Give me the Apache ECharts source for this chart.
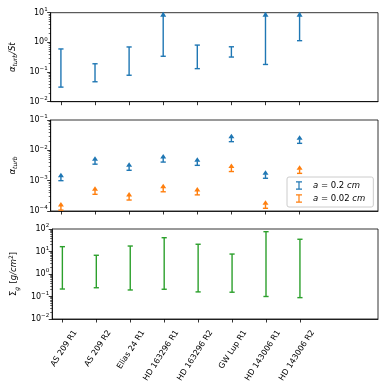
<!DOCTYPE html>
<html>
<head>
<meta charset="utf-8">
<script src="https://cdn.jsdelivr.net/npm/echarts@6/dist/echarts.min.js"></script>
<style>
  html, body { margin: 0; padding: 0; background: #fff; }
  #chart { width: 390px; height: 390px; }
</style>
</head>
<body>
<div id="chart"></div>
<script>
// 盘名
var discs = ['AS 209 R1', 'AS 209 R2', 'Elias 24 R1', 'HD 163296 R1', 'HD 163296 R2', 'GW Lup R1', 'HD 143006 R1', 'HD 143006 R2'];

// alpha_turb / St 范围 (open=1 表示只有下限, 上端画箭头)
var alphaStLo = [0.031, 0.047, 0.078, 0.34, 0.13, 0.32, 0.18, 1.14];
var alphaStHi = [0.6, 0.19, 0.70, 10, 0.81, 0.71, 10, 10];
var alphaStOpen = [0, 0, 0, 1, 0, 0, 1, 1];

// alpha_turb 下限
var turbBig = [1.0e-3, 3.5e-3, 2.2e-3, 4.1e-3, 3.2e-3, 1.93e-2, 1.2e-3, 1.7e-2];   // a = 0.2 cm
var turbSmall = [1.07e-4, 3.55e-4, 2.3e-4, 4.3e-4, 3.4e-4, 2.0e-3, 1.23e-4, 1.74e-3]; // a = 0.02 cm

// Sigma_g 范围
var sigmaLo = [0.215, 0.245, 0.195, 0.21, 0.16, 0.155, 0.10, 0.089];
var sigmaHi = [16.4, 6.8, 17.5, 41, 21, 7.7, 76, 35];

// 刻度
var ticks1 = [0.01, 0.1, 1, 10];
var ticks2 = [1e-4, 1e-3, 1e-2, 1e-1];
var ticks3 = [0.01, 0.1, 1, 10, 100];

var BLUE = '#1f77b4', ORANGE = '#ff7f0e', GREEN = '#2ca02c';
var LABEL_SHIFT = 0.38;
var FONT = 'DejaVu Sans';

function minorOf(majors) {
    var out = [];
    for (var i = 0; i < majors.length - 1; i++) {
        for (var k = 2; k <= 9; k++) out.push(majors[i] * k);
    }
    return out;
}

var powRich = {
    b: { fontSize: 8, fontFamily: FONT, color: '#000', lineHeight: 12 },
    p: { fontSize: 5.5, fontFamily: FONT, color: '#000', lineHeight: 6, verticalAlign: 'top' }
};
function powLabel(v) {
    var e = Math.round(Math.log10(v));
    return '{b|10}{p|' + (e < 0 ? '\u2212' + (-e) : e) + '}';
}

var nameRich = {
    m: { fontSize: 8.5, fontFamily: FONT, fontStyle: 'italic', color: '#000', lineHeight: 12 },
    r: { fontSize: 8.5, fontFamily: FONT, color: '#000', lineHeight: 12 },
    s: { fontSize: 6, fontFamily: FONT, fontStyle: 'italic', color: '#000', lineHeight: 6, verticalAlign: 'bottom' },
    u: { fontSize: 6, fontFamily: FONT, color: '#000', lineHeight: 6, verticalAlign: 'top' }
};

var grids = [
    { left: 48.5, right: 12, top: 12.7, height: 89 },
    { left: 48.5, right: 12, top: 120, height: 91 },
    { left: 48.5, right: 12, top: 229, height: 90 }
];
grids.forEach(function (g) { g.show = true; g.borderColor = '#000'; g.borderWidth = 0.8; });

function xAxisFor(idx, withLabels) {
    return {
        type: 'value', gridIndex: idx, min: -0.3, max: 9.3,
        splitLine: { show: false },
        axisLine: { onZero: false, lineStyle: { color: '#000', width: 0.8 } },
        axisTick: { length: 3.5, lineStyle: { color: '#000', width: 0.8 }, customValues: [0, 1, 2, 3, 4, 5, 6, 7] },
        axisLabel: withLabels ? {
            show: true, rotate: 57, margin: 12, fontSize: 8, fontFamily: FONT, color: '#000',
            customValues: discs.map(function (d, i) { return i + LABEL_SHIFT; }),
            formatter: function (v) { return discs[Math.round(v - LABEL_SHIFT)] || ''; }
        } : { show: false }
    };
}

function yAxesFor(idx, lo, hi, majors, name) {
    return [{
        type: 'log', logBase: 10, gridIndex: idx, min: lo, max: hi, position: 'left',
        name: name, nameLocation: 'middle', nameRotate: 90, nameGap: 32,
        nameTextStyle: { rich: nameRich },
        splitLine: { show: false },
        axisLine: { show: true, onZero: false, lineStyle: { color: '#000', width: 0.8 } },
        axisTick: { length: 3.5, lineStyle: { color: '#000', width: 0.8 }, customValues: majors },
        axisLabel: { margin: 3, customValues: majors, formatter: powLabel, rich: powRich }
    }, {
        type: 'log', logBase: 10, gridIndex: idx, min: lo, max: hi, position: 'left',
        axisLine: { show: false, onZero: false }, splitLine: { show: false },
        axisTick: { length: 2, lineStyle: { color: '#000', width: 0.6 }, customValues: minorOf(majors) },
        axisLabel: { show: false }
    }];
}

function rangeItem(params, api) {
    var x = api.value(0);
    var pLo = api.coord([x, api.value(1)]);
    var pHi = api.coord([x, api.value(2)]);
    var open = api.value(3);
    var st = { stroke: api.visual('color'), lineWidth: 1.4 };
    var w = 2.6;
    var kids = [
        { type: 'line', shape: { x1: pLo[0], y1: pLo[1], x2: pHi[0], y2: pHi[1] }, style: st },
        { type: 'line', shape: { x1: pLo[0] - w, y1: pLo[1], x2: pLo[0] + w, y2: pLo[1] }, style: st }
    ];
    if (open) {
        kids.push({ type: 'polygon', shape: { points: [[pHi[0], pHi[1] - 1], [pHi[0] - 3, pHi[1] + 4], [pHi[0] + 3, pHi[1] + 4]] },
            style: { fill: api.visual('color') } });
    } else {
        kids.push({ type: 'line', shape: { x1: pHi[0] - w, y1: pHi[1], x2: pHi[0] + w, y2: pHi[1] }, style: st });
    }
    return { type: 'group', children: kids };
}

function limitItem(params, api) {
    var p = api.coord([api.value(0), api.value(1)]);
    var c = api.visual('color');
    var st = { stroke: c, lineWidth: 1.4 };
    return { type: 'group', children: [
        { type: 'line', shape: { x1: p[0] - 2.6, y1: p[1], x2: p[0] + 2.6, y2: p[1] }, style: st },
        { type: 'line', shape: { x1: p[0], y1: p[1], x2: p[0], y2: p[1] - 4 }, style: st },
        { type: 'polygon', shape: { points: [[p[0], p[1] - 8], [p[0] - 3, p[1] - 3.5], [p[0] + 3, p[1] - 3.5]] }, style: { fill: c } }
    ] };
}

var alphaStData = discs.map(function (d, i) { return [i, alphaStLo[i], alphaStHi[i], alphaStOpen[i]]; });
var sigmaData = discs.map(function (d, i) { return [i, sigmaLo[i], sigmaHi[i], 0]; });
var bigData = discs.map(function (d, i) { return [i, turbBig[i]]; });
var smallData = discs.map(function (d, i) { return [i, turbSmall[i]]; });

var y1 = yAxesFor(0, 0.01, 10, ticks1, '{m|\u03b1}{s|turb}{m|/St}');
var y2 = yAxesFor(1, 1e-4, 1e-1, ticks2, '{m|\u03b1}{s|turb}');
var y3 = yAxesFor(2, 0.01, 100, ticks3, '{r|\u03a3}{s|g} {r|[}{m|g/cm}{u|2}{r|]}');

var errIcon = 'path://M0,0h7v1.4h-7zM2.8,0h1.4v10h-1.4zM0,8.6h7v1.4h-7z';

var myChart = echarts.init(document.getElementById('chart'), null, { renderer: 'canvas' });
var option = {
    animation: false,
    grid: grids,
    xAxis: [xAxisFor(0, false), xAxisFor(1, false), xAxisFor(2, true)],
    yAxis: y1.concat(y2, y3),
    legend: {
        left: 287, top: 177, orient: 'vertical',
        itemWidth: 6, itemHeight: 9, itemGap: 4,
        padding: [4, 8, 4, 9],
        borderColor: '#ccc', borderWidth: 1, borderRadius: 2, backgroundColor: '#fff',
        data: [{ name: 'a = 0.2 cm', icon: errIcon, itemStyle: { color: BLUE } },
               { name: 'a = 0.02 cm', icon: errIcon, itemStyle: { color: ORANGE } }],
        formatter: function (n) { return n.replace(/^a/, '{i|a}').replace(/cm$/, '{i|cm}'); },
        textStyle: {
            fontSize: 8.5, fontFamily: FONT, color: '#000', padding: [0, 0, 0, 6],
            rich: { i: { fontSize: 8.5, fontFamily: FONT, fontStyle: 'italic', color: '#000' } }
        }
    },
    series: [
        { type: 'custom', name: 'alphaSt', xAxisIndex: 0, yAxisIndex: 0, renderItem: rangeItem, clip: false,
          itemStyle: { color: BLUE }, encode: { x: 0, y: [1, 2] }, data: alphaStData },
        { type: 'custom', name: 'a = 0.2 cm', xAxisIndex: 1, yAxisIndex: 2, renderItem: limitItem, clip: false,
          itemStyle: { color: BLUE }, encode: { x: 0, y: 1 }, data: bigData },
        { type: 'custom', name: 'a = 0.02 cm', xAxisIndex: 1, yAxisIndex: 2, renderItem: limitItem, clip: false,
          itemStyle: { color: ORANGE }, encode: { x: 0, y: 1 }, data: smallData },
        { type: 'custom', name: 'sigma', xAxisIndex: 2, yAxisIndex: 4, renderItem: rangeItem, clip: false,
          itemStyle: { color: GREEN }, encode: { x: 0, y: [1, 2] }, data: sigmaData }
    ]
};
myChart.setOption(option);
</script>
</body>
</html>
